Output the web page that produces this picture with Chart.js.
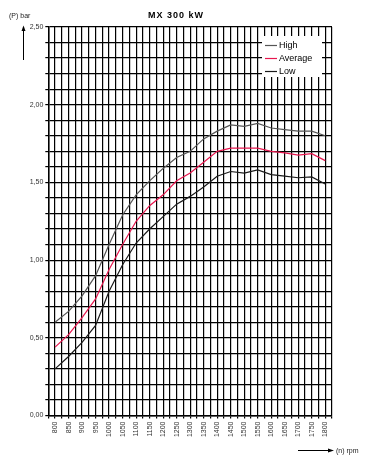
<!DOCTYPE html>
<html><head><meta charset="utf-8">
<script src="https://cdn.jsdelivr.net/npm/chart.js@4/dist/chart.umd.min.js"></script>
<style>html,body{margin:0;padding:0;background:#fff}#wrap{width:365px;height:458px;position:relative}</style>
</head><body><div id="wrap"><canvas id="c" width="365" height="458"></canvas></div>
<script>
const rpm = [800,850,900,950,1000,1050,1100,1150,1200,1250,1300,1350,1400,1450,1500,1550,1600,1650,1700,1750,1800];
const high = [0.60,0.67,0.77,0.90,1.10,1.29,1.42,1.51,1.59,1.66,1.70,1.78,1.83,1.87,1.86,1.88,1.85,1.84,1.83,1.83,1.80];
const average = [0.44,0.52,0.63,0.75,0.94,1.10,1.25,1.35,1.42,1.51,1.56,1.63,1.70,1.72,1.72,1.72,1.70,1.69,1.675,1.685,1.64];
const low = [0.30,0.38,0.47,0.58,0.80,0.97,1.11,1.20,1.28,1.36,1.41,1.47,1.54,1.57,1.56,1.58,1.55,1.54,1.53,1.535,1.49];
const seriesNames = ['High','Average','Low'];
const seriesColors = ['#555555','#e8174f','#1a1a1a'];
const titleText = 'MX 300 kW';
const yTitle = '(P) bar';
const xTitle = '(n) rpm';
const FONT = '"Liberation Sans", Arial, sans-serif';

const pts = arr => rpm.map((r,i)=>({x:r,y:arr[i]}));
const datasets = [high,average,low].map((arr,i)=>({
  label: seriesNames[i], data: pts(arr), borderColor: seriesColors[i],
  borderWidth: 1.2, pointRadius: 0, tension: 0, fill: false
}));

const decor = {
  id: 'decor',
  afterDatasetsDraw(chart){
    const ctx = chart.ctx;
    ctx.save();
    // legend box
    ctx.fillStyle = '#fff';
    ctx.fillRect(262, 36, 60, 41);
    ctx.textBaseline = 'middle';
    ctx.font = '9px ' + FONT;
    chart.data.datasets.forEach((ds,i)=>{
      const y = 45.5 + i*13;
      ctx.strokeStyle = ds.borderColor; ctx.lineWidth = 1.2;
      ctx.beginPath(); ctx.moveTo(265,y); ctx.lineTo(277,y); ctx.stroke();
      ctx.fillStyle = '#000';
      ctx.fillText(ds.label, 279, y+0.5);
    });
    // title
    ctx.font = 'bold 9px ' + FONT;
    ctx.letterSpacing = '1px';
    ctx.textAlign = 'center'; ctx.textBaseline = 'alphabetic';
    ctx.fillText(titleText, 176, 17.5);
    ctx.letterSpacing = '0px';
    // y title + arrow
    ctx.font = '7px ' + FONT; ctx.textAlign = 'left';
    ctx.fillStyle = '#222';
    ctx.fillText(yTitle, 9, 18);
    ctx.strokeStyle = '#000'; ctx.lineWidth = 1;
    ctx.beginPath(); ctx.moveTo(23.5,30); ctx.lineTo(23.5,60); ctx.stroke();
    ctx.fillStyle = '#000';
    ctx.beginPath(); ctx.moveTo(23.5,25.5); ctx.lineTo(21.5,31); ctx.lineTo(25.5,31); ctx.closePath(); ctx.fill();
    // x title + arrow
    ctx.beginPath(); ctx.moveTo(298,450.5); ctx.lineTo(329,450.5); ctx.stroke();
    ctx.beginPath(); ctx.moveTo(334,450.5); ctx.lineTo(328,448.5); ctx.lineTo(328,452.5); ctx.closePath(); ctx.fill();
    ctx.fillStyle = '#222';
    ctx.textBaseline = 'middle';
    ctx.fillText(xTitle, 336, 451);
    ctx.restore();
  }
};

new Chart(document.getElementById('c'), {
  type: 'line',
  data: { datasets },
  options: {
    responsive: false, animation: false,
    layout: { padding: { top: 27, right: 33, left: 0, bottom: 0 } },
    plugins: { legend: { display: false }, title: { display: false }, tooltip: { enabled: false } },
    scales: {
      x: {
        type: 'linear', min: 775, max: 1825,
        afterFit: s => { s.height = 42.5; },
        grid: { color: '#000', lineWidth: 1.2, tickLength: 3, drawTicks: true },
        border: { color: '#000', width: 1.5 },
        ticks: {
          stepSize: 25, autoSkip: false, minRotation: 90, maxRotation: 90, padding: 3,
          color: '#333', font: { family: FONT, size: 7 },
          callback: v => (v % 50 === 0 ? String(v) : '')
        }
      },
      y: {
        min: 0, max: 2.5,
        afterFit: s => { s.width = 48.3; },
        grid: { color: '#000', lineWidth: 1.2, tickLength: 3 },
        border: { color: '#000', width: 1.5 },
        ticks: {
          stepSize: 0.1, autoSkip: false, padding: 2,
          color: '#333', font: { family: FONT, size: 7 },
          callback: v => (Math.round(v*100) % 50 === 0 ? v.toFixed(2).replace('.', ',') : '')
        }
      }
    }
  },
  plugins: [decor]
});
</script></body></html>
